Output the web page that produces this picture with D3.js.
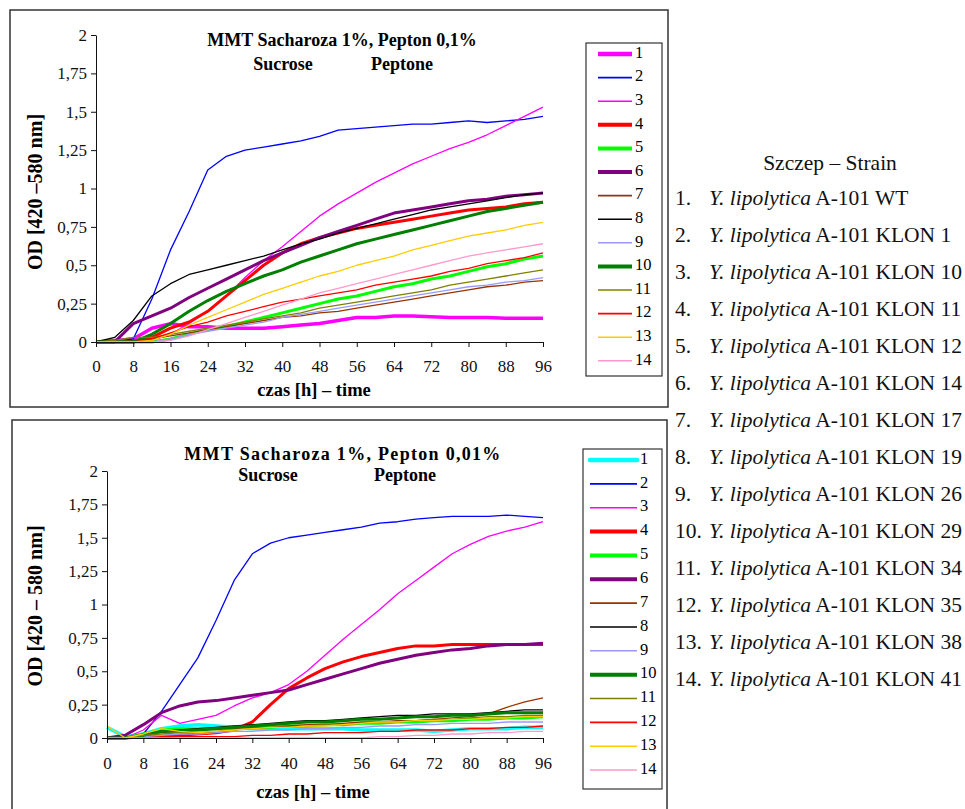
<!DOCTYPE html>
<html>
<head>
<meta charset="utf-8">
<script src="https://cdn.jsdelivr.net/npm/d3@7/dist/d3.min.js"></script>
<style>
body{margin:0;background:#fff}
svg, svg text{font-family:"Liberation Serif","Times New Roman",serif !important}
</style>
</head>
<body>
<svg id="c" width="965" height="809"></svg>
<script>
// ---------------- data ----------------
var hours = [0,4,8,12,16,20,24,28,32,36,40,44,48,52,56,60,64,68,72,76,80,84,88,92,96];
var xTicks = [0,8,16,24,32,40,48,56,64,72,80,88,96];
var yTicks = [0,0.25,0.5,0.75,1,1.25,1.5,1.75,2];
var yTickLabels = ["0","0,25","0,5","0,75","1","1,25","1,5","1,75","2"];
var legendLabels = ["1","2","3","4","5","6","7","8","9","10","11","12","13","14"];

// MMT Sacharoza 1%, Pepton 0,1%
var top1  = [0.0,0.01,0.02,0.09,0.12,0.10,0.10,0.09,0.09,0.09,0.10,0.11,0.12,0.14,0.16,0.16,0.17,0.17,0.165,0.16,0.16,0.16,0.155,0.155,0.155];
var top2  = [0.0,0.0,0.02,0.28,0.60,0.85,1.12,1.21,1.25,1.27,1.29,1.31,1.34,1.38,1.39,1.40,1.41,1.42,1.42,1.43,1.44,1.43,1.44,1.45,1.47];
var top3  = [0,0,0,0.01,0.05,0.12,0.20,0.30,0.42,0.53,0.62,0.72,0.82,0.90,0.97,1.04,1.10,1.16,1.21,1.26,1.30,1.35,1.41,1.47,1.53];
var top4  = [0,0,0,0.03,0.09,0.13,0.20,0.30,0.40,0.50,0.58,0.64,0.68,0.71,0.74,0.76,0.78,0.80,0.82,0.84,0.86,0.87,0.88,0.90,0.91];
var top5  = [0,0,0,0,0.02,0.05,0.08,0.10,0.13,0.16,0.19,0.22,0.25,0.28,0.30,0.33,0.36,0.38,0.41,0.43,0.46,0.49,0.51,0.54,0.56];
var top6  = [0,0,0.12,0.17,0.22,0.29,0.35,0.41,0.47,0.53,0.58,0.63,0.68,0.72,0.76,0.80,0.84,0.86,0.88,0.90,0.92,0.93,0.95,0.96,0.97];
var top7  = [0,0,0.01,0.02,0.04,0.06,0.08,0.10,0.12,0.14,0.16,0.17,0.19,0.20,0.22,0.24,0.26,0.28,0.30,0.32,0.34,0.36,0.37,0.39,0.40];
var top8  = [0,0.03,0.14,0.30,0.38,0.44,0.47,0.50,0.53,0.56,0.60,0.64,0.67,0.71,0.74,0.77,0.80,0.83,0.86,0.88,0.90,0.92,0.94,0.96,0.97];
var top9  = [0,0,0,0,0.02,0.05,0.07,0.09,0.11,0.13,0.16,0.18,0.20,0.22,0.24,0.26,0.28,0.30,0.32,0.34,0.36,0.37,0.39,0.40,0.42];
var top10 = [0,0,0,0.05,0.12,0.20,0.27,0.33,0.38,0.43,0.47,0.52,0.56,0.60,0.64,0.67,0.70,0.73,0.76,0.79,0.82,0.85,0.87,0.89,0.91];
var top11 = [0,0.01,0.03,0.03,0.05,0.07,0.09,0.11,0.13,0.15,0.17,0.19,0.22,0.24,0.26,0.28,0.30,0.32,0.34,0.37,0.39,0.41,0.43,0.45,0.47];
var top12 = [0,0,0,0.02,0.06,0.10,0.13,0.17,0.20,0.23,0.26,0.28,0.30,0.32,0.34,0.37,0.39,0.41,0.43,0.46,0.48,0.51,0.53,0.55,0.58];
var top13 = [0,0,0,0.01,0.05,0.11,0.16,0.21,0.26,0.31,0.35,0.39,0.43,0.46,0.50,0.53,0.56,0.60,0.63,0.66,0.69,0.71,0.73,0.76,0.78];
var top14 = [0,0,0,0,0.01,0.04,0.08,0.12,0.16,0.20,0.24,0.28,0.32,0.35,0.38,0.41,0.44,0.47,0.50,0.53,0.56,0.58,0.60,0.62,0.64];

// MMT Sacharoza 1%, Pepton 0,01%
var bot1  = [0.08,0.01,0.03,0.07,0.09,0.10,0.09,0.08,0.07,0.07,0.07,0.07,0.07,0.07,0.06,0.06,0.06,0.06,0.05,0.06,0.07,0.07,0.07,0.08,0.08];
var bot2  = [0,0,0.03,0.20,0.40,0.60,0.88,1.18,1.38,1.46,1.50,1.52,1.54,1.56,1.58,1.61,1.62,1.64,1.65,1.66,1.66,1.66,1.67,1.66,1.65];
var bot3  = [0,0,0.06,0.17,0.11,0.14,0.17,0.24,0.30,0.34,0.40,0.50,0.62,0.74,0.85,0.96,1.08,1.18,1.28,1.38,1.45,1.51,1.55,1.58,1.62];
var bot4  = [0,0,0.01,0.01,0.02,0.03,0.04,0.06,0.12,0.25,0.37,0.45,0.52,0.57,0.61,0.64,0.67,0.69,0.69,0.70,0.70,0.70,0.70,0.70,0.70];
var bot5  = [0,0,0.03,0.06,0.07,0.07,0.07,0.08,0.08,0.08,0.09,0.09,0.10,0.10,0.11,0.11,0.12,0.12,0.13,0.13,0.14,0.14,0.15,0.15,0.16];
var bot6  = [0,0.02,0.10,0.19,0.24,0.27,0.28,0.30,0.32,0.34,0.36,0.40,0.44,0.48,0.52,0.56,0.59,0.62,0.64,0.66,0.67,0.69,0.70,0.70,0.71];
var bot7  = [0,0,0.02,0.04,0.05,0.06,0.07,0.07,0.08,0.08,0.09,0.10,0.10,0.11,0.12,0.12,0.13,0.13,0.14,0.15,0.16,0.18,0.23,0.27,0.30];
var bot8  = [0,0,0.03,0.05,0.06,0.07,0.08,0.09,0.10,0.11,0.12,0.13,0.13,0.14,0.15,0.16,0.17,0.17,0.18,0.18,0.18,0.19,0.20,0.21,0.21];
var bot9  = [0,0,0.01,0.02,0.03,0.03,0.04,0.05,0.05,0.06,0.06,0.07,0.07,0.08,0.08,0.09,0.09,0.10,0.10,0.11,0.11,0.11,0.12,0.12,0.12];
var bot10 = [0,0,0.02,0.05,0.05,0.06,0.07,0.08,0.09,0.10,0.11,0.12,0.12,0.13,0.14,0.14,0.15,0.16,0.16,0.17,0.17,0.18,0.19,0.19,0.19];
var bot11 = [0,0,0.02,0.03,0.04,0.04,0.05,0.06,0.07,0.08,0.08,0.09,0.10,0.10,0.11,0.12,0.12,0.13,0.14,0.14,0.15,0.16,0.16,0.17,0.17];
var bot12 = [0,0,0,0,0.01,0.01,0.01,0.01,0.02,0.02,0.03,0.03,0.04,0.04,0.04,0.05,0.05,0.06,0.06,0.06,0.07,0.07,0.08,0.08,0.09];
var bot13 = [0.09,0,0.03,0.07,0.05,0.04,0.05,0.06,0.07,0.08,0.08,0.09,0.09,0.10,0.11,0.12,0.12,0.13,0.13,0.14,0.14,0.15,0.15,0.16,0.16];
var bot14 = [0,0,0,0,0,0,0,0,0,0,0,0,0,0,0,0.01,0.01,0.02,0.02,0.03,0.03,0.04,0.04,0.05,0.05];

var strainNames = ["WT","KLON 1","KLON 10","KLON 11","KLON 12","KLON 14","KLON 17","KLON 19","KLON 26","KLON 29","KLON 34","KLON 35","KLON 38","KLON 41"];

// ---------------- styles ----------------
var topColors = ["#ff00ff","#0000ff","#ff00ff","#ff0000","#00ff00","#800080","#993300","#000000","#9999ff","#008000","#808000","#ff0000","#ffcc00","#ff99cc"];
var botColors = ["#00ffff","#0000ff","#ff00ff","#ff0000","#00ff00","#800080","#993300","#000000","#9999ff","#008000","#808000","#ff0000","#ffcc00","#ff99cc"];
var widths = [3.5,1.3,1.3,3,3,3,1.3,1.3,1.3,3,1.3,1.3,1.3,1.3];
var serif = '"Liberation Serif","Times New Roman",serif';

var svg = d3.select("#c");

function drawChart(cfg){
	var g = svg.append("g");
	g.append("rect").attr("x",cfg.frame[0]).attr("y",cfg.frame[1]).attr("width",cfg.frame[2]).attr("height",cfg.frame[3])
		.attr("fill","none").attr("stroke","#333").attr("stroke-width",1.5);

	var x = d3.scaleLinear().domain([0,96]).range([cfg.px0,cfg.px1]);
	var y = d3.scaleLinear().domain([0,2]).range([cfg.py0,cfg.py1]);

	var line = d3.line().x(function(d,i){return x(hours[i]);}).y(function(d){return y(d);});
	cfg.series.forEach(function(s,i){
		g.append("path").datum(s).attr("d",line).attr("fill","none")
			.attr("stroke",cfg.colors[i]).attr("stroke-width",widths[i]).attr("stroke-linejoin","round");
	});

	// axes
	var yAxis = d3.axisLeft(y).tickValues(yTicks).tickSize(5).tickSizeOuter(0)
		.tickFormat(function(d,i){return yTickLabels[i];});
	var ya = g.append("g").attr("transform","translate("+cfg.px0+",0)").call(yAxis);
	ya.selectAll("text").attr("x",-9);
	var xAxis = d3.axisBottom(x).tickValues(xTicks).tickSize(5).tickSizeOuter(0).tickFormat(d3.format("d"));
	var xa = g.append("g").attr("transform","translate(0,"+cfg.py0+")").call(xAxis);
	xa.selectAll("text").attr("dy",cfg.xLabDy);
	g.selectAll(".tick text").attr("fill","#111").style("font-family",serif).style("font-size","17px");
	g.selectAll(".domain").attr("stroke","#111");
	g.selectAll(".tick line").attr("stroke","#111");

	// titles
	g.append("text").attr("x",cfg.titleX).attr("y",cfg.titleY).attr("text-anchor","middle")
		.attr("font-weight","bold").attr("font-size",18).attr("letter-spacing",cfg.titleLs)
		.text(cfg.title);
	g.append("text").attr("x",cfg.sucX).attr("y",cfg.subY).attr("text-anchor","middle")
		.attr("font-weight","bold").attr("font-size",18).text("Sucrose");
	g.append("text").attr("x",cfg.pepX).attr("y",cfg.subY).attr("text-anchor","middle")
		.attr("font-weight","bold").attr("font-size",18).text("Peptone");
	g.append("text").attr("transform","translate("+cfg.yLabX+","+cfg.yLabY+") rotate(-90)")
		.attr("text-anchor","middle").attr("dominant-baseline","middle")
		.attr("font-weight","bold").attr("font-size",20).text(cfg.yLabel);
	g.append("text").attr("x",cfg.xLabX).attr("y",cfg.xLabY).attr("text-anchor","middle")
		.attr("font-weight","bold").attr("font-size",18.5).text("czas [h] – time");

	// legend
	var L = cfg.legend;
	g.append("rect").attr("x",L[0]).attr("y",L[1]).attr("width",L[2]).attr("height",L[3])
		.attr("fill","#fff").attr("stroke","#333").attr("stroke-width",1.2);
	legendLabels.forEach(function(lab,i){
		var yy = L[4] + i*L[5];
		g.append("line").attr("x1",L[6]).attr("x2",L[7]).attr("y1",yy).attr("y2",yy)
			.attr("stroke",cfg.colors[i]).attr("stroke-width",widths[i]+ (widths[i]>2?1:0.3))
			.attr("stroke-linecap",(cfg.roundFirst && i==0)?"round":"butt");
		g.append("text").attr("x",L[7]+3).attr("y",yy).attr("dominant-baseline","middle")
			.attr("font-size",16.5).text(lab);
	});
}

drawChart({
	frame:[10,10,658,397], px0:96, px1:543, py0:342, py1:35,
	series:[top1,top2,top3,top4,top5,top6,top7,top8,top9,top10,top11,top12,top13,top14],
	colors:topColors, xLabDy:"22px",
	title:"MMT Sacharoza 1%, Pepton 0,1%", titleX:342, titleY:46, titleLs:0,
	sucX:283, pepX:402, subY:70,
	yLabel:"OD [420 –580 nm]", yLabX:37, yLabY:192,
	xLabX:314, xLabY:396,
	legend:[586,43,76,333,54,23.6,598,632], roundFirst:false
});

drawChart({
	frame:[12,420,655,400], px0:107, px1:543, py0:738, py1:471,
	series:[bot1,bot2,bot3,bot4,bot5,bot6,bot7,bot8,bot9,bot10,bot11,bot12,bot13,bot14],
	colors:botColors, xLabDy:"23px",
	title:"MMT Sacharoza 1%, Pepton 0,01%", titleX:343, titleY:460, titleLs:1.3,
	sucX:268, pepX:405, subY:481,
	yLabel:"OD [420 – 580 nm]", yLabX:37, yLabY:606,
	xLabX:313, xLabY:798,
	legend:[583,449,79,340,460,23.85,590,637], roundFirst:true
});

// strain list on the right
var side = svg.append("g").attr("font-size",21.5).attr("fill","#111");
side.append("text").attr("x",830).attr("y",170).attr("text-anchor","middle").text("Szczep – Strain");
strainNames.forEach(function(n,i){
	var yy = 205 + i*37.0;
	side.append("text").attr("x",675).attr("y",yy).text((i+1)+".");
	var t = side.append("text").attr("x",709).attr("y",yy);
	t.append("tspan").attr("font-style","italic").text("Y. lipolytica");
	t.append("tspan").text(" A-101 "+n);
});
</script>
</body>
</html>
